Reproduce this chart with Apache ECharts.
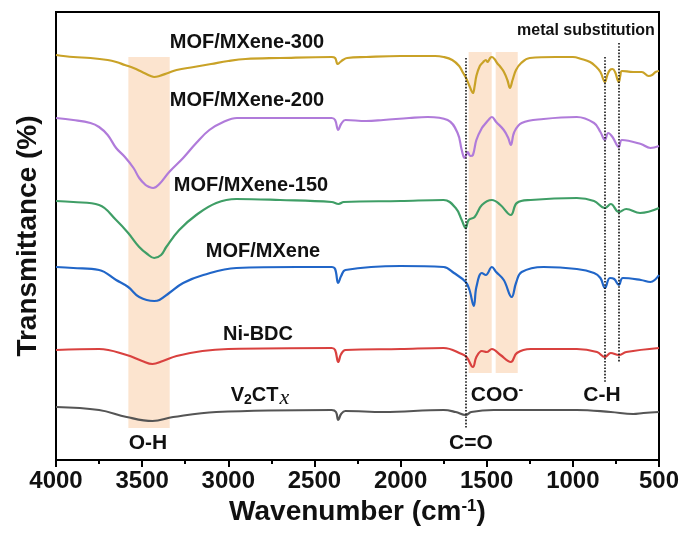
<!DOCTYPE html>
<html>
<head>
<meta charset="utf-8">
<script src="https://cdn.jsdelivr.net/npm/echarts@6/dist/echarts.min.js"></script>
<style>
html, body { margin: 0; padding: 0; background: #fff; }
#main { width: 686px; height: 533px; }
</style>
</head>
<body>
<div id="main"></div>
<script>
// FTIR spectra, stacked (wavenumber, transmittance a.u.)
var wavenumberTicks = [4000, 3500, 3000, 2500, 2000, 1500, 1000, 500];

var v2ctx = [[4000,13.25],[3750,12.5],[3590,10.75],[3440,9.75],[3320,10.75],[3070,12],[2400,12.5],[2375,12],[2362,10],[2345,11.5],[2320,12.25],[2100,12],[1750,12.5],[1680,12],[1622,11.25],[1590,12],[1460,12.5],[977,12.5],[780,12],[650,11.5],[590,11.75],[500,12]];

var niBdc = [[4000,27.5],[3750,27.75],[3590,26.25],[3500,24.75],[3440,24],[3380,24.75],[3300,26],[3150,27.25],[3000,27.75],[2400,28],[2380,27.5],[2362,24.5],[2345,26.5],[2320,27.5],[2000,27.75],[1750,28],[1645,26.5],[1617,25.75],[1580,23.25],[1560,25.75],[1528,27.25],[1500,27],[1470,27.75],[1420,26.25],[1360,24.5],[1325,26.75],[1245,27.75],[977,27.75],[860,27],[814,25.75],[780,26.75],[733,26.25],[690,27],[500,28]];

var mofMxene = [[4000,48.25],[3900,48],[3750,47.5],[3651,45],[3581,43.25],[3517,40.75],[3430,39.75],[3400,40],[3343,41.75],[3262,44.25],[3145,46.25],[2953,48],[2600,48.25],[2400,48.25],[2380,47.75],[2362,44.25],[2345,46],[2320,47.5],[2000,48.5],[1750,48.25],[1690,46.75],[1622,44.5],[1600,42.5],[1575,38.5],[1560,43.25],[1528,46.75],[1505,46.25],[1470,48.25],[1445,47],[1401,45],[1355,40.75],[1330,44.25],[1297,47],[1170,48.25],[977,47.75],[877,46.75],[840,45.5],[814,43],[785,45.5],[760,45.25],[733,43.75],[710,45.5],[605,45],[550,44.5],[500,46.25]];

var mof150 = [[4000,64.75],[3900,64.5],[3750,63.75],[3651,60],[3581,56.75],[3517,53.25],[3470,51.5],[3430,50.5],[3390,51.25],[3360,53.25],[3285,57.5],[3186,61.25],[3070,64.25],[2953,65.25],[2700,65],[2400,64.5],[2360,64],[2330,64.5],[2000,64.75],[1750,65],[1680,63],[1645,60],[1622,58],[1605,60],[1570,60.75],[1528,63.75],[1470,65],[1420,63.75],[1360,61.25],[1325,64.25],[1245,65],[977,65.5],[877,64.75],[814,63],[780,64],[733,62],[690,62.75],[610,61.75],[500,63]];

var mof200 = [[4000,85.5],[3900,85],[3800,84.25],[3750,83.25],[3700,81.25],[3651,78],[3600,75.75],[3550,73],[3517,70.5],[3480,68.75],[3459,68.25],[3436,68],[3400,69],[3343,72],[3262,75.5],[3186,79.25],[3110,82.5],[3029,84.5],[2950,85.5],[2800,85.5],[2400,85.5],[2380,85],[2362,82.5],[2345,84],[2320,85],[2200,84.75],[2100,85],[1950,85.5],[1843,85.75],[1727,85],[1669,81.75],[1645,77.5],[1628,75.5],[1610,77],[1595,76],[1580,76.25],[1560,80],[1528,83],[1505,84.25],[1490,85],[1470,85.75],[1445,84.5],[1401,82.5],[1375,80.5],[1360,78.75],[1340,82],[1297,84.25],[1170,85.25],[977,85.75],[877,84.25],[840,82],[814,80],[795,81.75],[770,80.75],[733,78.25],[715,80],[605,79],[550,78],[500,78.5]];

var mof300 = [[4000,101.25],[3900,100.75],[3800,100.5],[3700,100],[3650,99.5],[3600,98.75],[3550,98],[3500,97],[3450,96],[3430,95.75],[3400,96],[3350,96.75],[3300,97.5],[3200,98.25],[3100,99],[3000,99.75],[2900,100.25],[2700,100.5],[2400,100.75],[2380,100.5],[2365,99],[2350,99.5],[2335,100],[2310,100.5],[2200,100.75],[2000,101],[1800,101],[1750,100.75],[1700,100],[1660,98.5],[1640,97],[1620,95.5],[1600,93.5],[1580,91.75],[1570,93.5],[1560,96],[1540,98.5],[1520,99.5],[1505,100],[1495,99.5],[1480,100.5],[1470,100.75],[1455,100.25],[1440,99.25],[1420,98.25],[1400,97],[1380,95],[1365,93],[1350,95],[1330,97.5],[1300,99.25],[1250,100.5],[1100,100.75],[1000,100.75],[950,100.25],[900,99.5],[870,98.5],[840,97],[814,94.5],[800,96.25],[785,97.5],[770,97.75],[755,97],[740,95],[733,94.5],[725,96],[715,97.25],[650,97],[600,97],[560,96],[540,96.25],[520,97],[500,97.25]];

// shaded bands [from, to, top, bottom] and dotted guide lines [wavenumber, top, bottom]
var bands = [[3580, 3340, 100.75, 8], [1605, 1471, 102, 21.75], [1448, 1320, 102, 21.75]];
var guides = [[1622, 100.5, 8], [814, 100.75, 19.5], [733, 104.25, 24.25]];

var names = ['V2CTx', 'Ni-BDC', 'MOF/MXene', 'MOF/MXene-150', 'MOF/MXene-200', 'MOF/MXene-300'];
var curves = [v2ctx, niBdc, mofMxene, mof150, mof200, mof300];
var colors = ['#555555', '#d9413f', '#2166c8', '#3f9e66', '#b07bda', '#c9a227'];

var FONT = 'Liberation Sans, Arial, sans-serif';

var myChart = echarts.init(document.getElementById('main'));

var series = [{
    type: 'line',
    data: [],
    z: 1,
    silent: true,
    markArea: {
        silent: true,
        itemStyle: { color: '#fce4cf' },
        data: bands.map(function (b) {
            return [{ coord: [b[0], b[2]] }, { coord: [b[1], b[3]] }];
        })
    }
}];

curves.forEach(function (c, i) {
    series.push({
        name: names[i],
        type: 'line',
        data: c,
        z: 3,
        smooth: 0.4,
        showSymbol: false,
        lineStyle: { color: colors[i], width: 2.2 },
        itemStyle: { color: colors[i] }
    });
});

series.push({
    type: 'line',
    data: [],
    z: 5,
    silent: true,
    markLine: {
        silent: true,
        symbol: 'none',
        label: { show: false },
        lineStyle: { color: '#111', type: 'dotted', width: 1.6 },
        data: guides.map(function (g) {
            return [{ coord: [g[0], g[1]] }, { coord: [g[0], g[2]] }];
        })
    }
});

function label(text, x, y, size, rich) {
    return {
        type: 'text',
        x: x, y: y,
        style: {
            text: text,
            font: 'bold ' + size + 'px ' + FONT,
            fill: '#111',
            align: 'center',
            verticalAlign: 'middle',
            rich: rich || {}
        },
        z: 10
    };
}

var option = {
    animation: false,
    grid: {
        left: 56, right: 27, top: 12, bottom: 73,
        show: true, borderColor: '#000', borderWidth: 2
    },
    xAxis: {
        type: 'value',
        inverse: true,
        min: 500, max: 4000, interval: 500,
        splitLine: { show: false },
        axisLine: { lineStyle: { color: '#000', width: 2 } },
        axisTick: { inside: false, length: 7, lineStyle: { width: 2 } },
        minorTick: { show: true, splitNumber: 2, length: 4, lineStyle: { color: '#000', width: 2 } },
        axisLabel: {
            color: '#111', fontSize: 24, fontWeight: 'bold', fontFamily: FONT, margin: 9,
            formatter: function (v) { return String(v); }
        },
        name: 'Wavenumber (cm{sup|-1})',
        nameLocation: 'middle',
        nameGap: 33,
        nameTextStyle: {
            color: '#111', fontSize: 28, fontWeight: 'bold', fontFamily: FONT,
            rich: { sup: { fontSize: 17, fontWeight: 'bold', fontFamily: FONT, color: '#111', verticalAlign: 'top', padding: [0, 0, 12, 0] } }
        }
    },
    yAxis: {
        type: 'value',
        min: 0, max: 112,
        splitLine: { show: false },
        axisLine: { show: true, lineStyle: { color: '#000', width: 2 } },
        axisTick: { show: false },
        axisLabel: { show: false },
        name: 'Transmittance (%)',
        nameLocation: 'middle',
        nameRotate: 90,
        nameGap: 14,
        nameTextStyle: { color: '#111', fontSize: 28, fontWeight: 'bold', fontFamily: FONT }
    },
    series: series,
    graphic: [
        label('MOF/MXene-300', 247, 42, 20),
        label('MOF/MXene-200', 247, 100, 20),
        label('MOF/MXene-150', 251, 185, 20),
        label('MOF/MXene', 263, 251, 20),
        label('Ni-BDC', 258, 334, 20),
        label('V{sub|2}CT{it|x}', 260, 395, 20, {
            sub: { font: 'bold 14px ' + FONT, fill: '#111', padding: [10, 0, 0, 0] },
            it: { font: 'italic 22px "Liberation Serif", "Times New Roman", serif', fill: '#111', padding: [6, 0, 0, 1] }
        }),
        label('O-H', 148, 443, 21),
        label('C=O', 471, 443, 21),
        label('COO{sup|-}', 497, 395, 21, {
            sup: { font: 'bold 14px ' + FONT, fill: '#111', padding: [0, 0, 10, 0] }
        }),
        label('C-H', 602, 395, 21),
        label('metal substitution', 586, 31, 16)
    ]
};

myChart.setOption(option);
</script>
</body>
</html>
